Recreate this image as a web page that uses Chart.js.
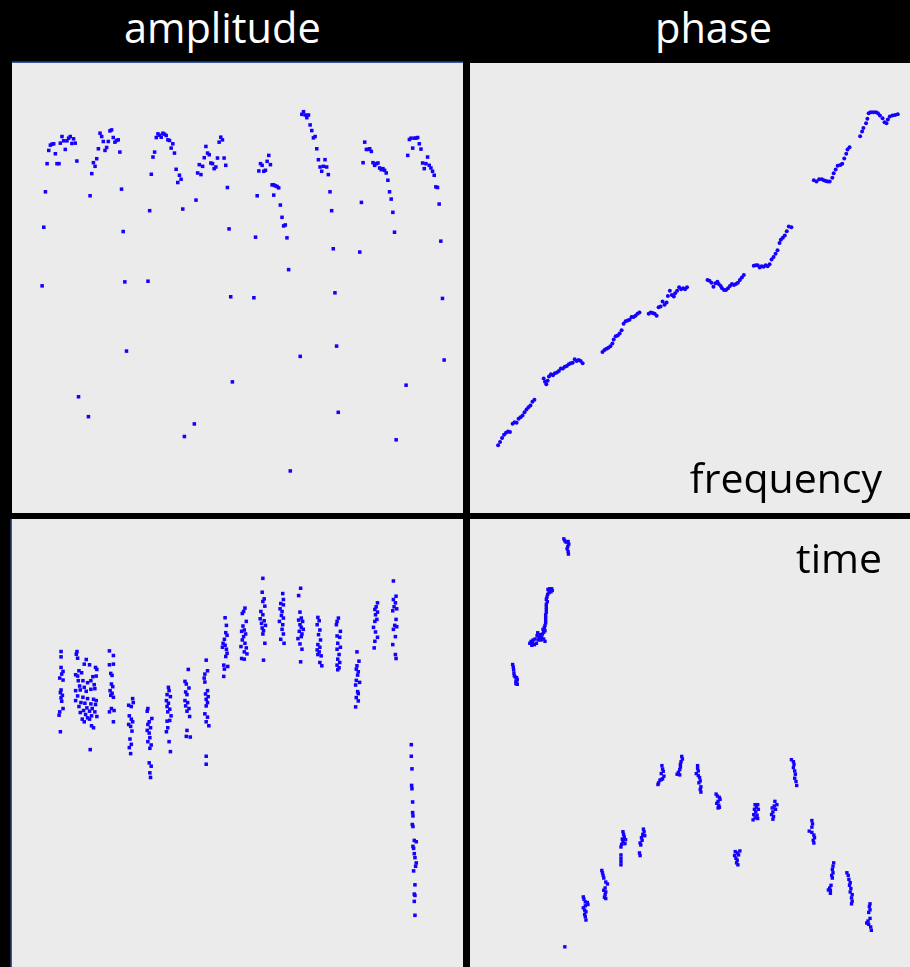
<!DOCTYPE html>
<html>
<head>
<meta charset="utf-8">
<script src="https://cdn.jsdelivr.net/npm/chart.js@4"></script>
<style>
  body { margin: 0; background: #000; }
  #page { position: relative; width: 910px; height: 967px; background: #000; overflow: hidden; font-family: "Open Sans", sans-serif; }
  .head { position: absolute; top: 7px; color: #fff; font-size: 41.5px; line-height: 40px; }
  .panel { position: absolute; background: #ebebeb; overflow: hidden; }
  .panel canvas { position: absolute; }
  .tag { position: absolute; right: 28px; color: #000; font-size: 41px; line-height: 41px; }
</style>
</head>
<body>
<div id="page">
  <div class="head" style="left:124px">amplitude</div>
  <div class="head" style="left:655px">phase</div>

  <div class="panel" id="p1" style="left:12px;top:63px;width:451px;height:450px;box-shadow:0 -1.5px 0 #3a5a9a"></div>
  <div class="panel" id="p2" style="left:470px;top:63px;width:440px;height:450px"></div>
  <div class="panel" id="p3" style="left:12px;top:519px;width:451px;height:448px;box-shadow:-1.5px 0 0 #3a5a9a"></div>
  <div class="panel" id="p4" style="left:470px;top:519px;width:440px;height:448px"></div>

  <div class="tag" style="top:457px">frequency</div>
  <div class="tag" style="top:537px">time</div>
</div>

<script>
// amplitude vs frequency (arbitrary units)
const ampFreq = [
  [96,860],[101,967],[106,1052],[111,1092],[116,1108],[121,1111],[126,1112],[131,1082],[136,1052],[142,1052],
  [146,1114],[151,1134],[156,1121],[161,1095],[166,1121],[171,1129],[176,1134],[181,1113],[186,1127],[191,1114],[196,1060],
  [236,955],[241,1022],[246,1055],[251,1044],[256,1067],[261,1097],[266,1144],[271,1134],[276,1119],[281,1092],
  [286,1101],[291,1119],[296,1151],[301,1154],[306,1131],[311,1117],[316,1122],[321,1124],[326,1087],[331,975],[336,847],
  [416,910],[421,1020],[426,1072],[431,1087],[436,1131],[441,1142],[446,1138],[451,1132],[456,1144],[461,1141],
  [466,1137],[471,1124],[476,1122],[481,1099],[486,1112],[491,1084],[496,1035],[501,995],[506,1017],[511,1005],[516,915],
  [556,942],[561,1024],[566,1049],[571,1019],[576,1044],[581,1070],[586,1104],[591,1084],[596,1079],[601,1054],
  [606,1052],[611,1037],[616,1042],[621,1069],[626,1117],[631,1132],[636,1124],[641,1069],[646,1047],[651,980],[656,855],
  [736,830],[741,955],[746,1030],[751,1052],[756,1047],[761,1029],[766,1032],[771,1059],[776,1077],[781,1049],
  [786,988],[791,988],[796,985],[801,983],[806,979],[791,957],[811,927],[816,890],[821,864],[826,867],[831,828],[836,732],
  [876,1201],[881,1209],[886,1199],[891,1191],[896,1199],[901,1169],[906,1152],[911,1130],[916,1134],[921,1097],
  [926,1064],[931,1042],[936,1029],[941,1044],[946,1064],[951,1042],[956,1019],[961,967],[966,910],[971,795],
  [1051,785],[1056,935],[1061,1055],[1066,1117],[1071,1095],[1076,1095],[1081,1097],[1086,1089],[1091,1055],[1096,1047],
  [1101,1052],[1106,1054],[1111,1039],[1116,1034],[1121,1037],[1126,1032],[1131,1024],[1136,1002],[1141,967],[1146,945],
  [1151,905],[1156,845],
  [1196,1077],[1201,1125],[1206,1129],[1211,1099],[1216,1129],[1221,1129],[1226,1131],[1231,1112],[1236,1096],[1241,1054],
  [1246,1037],[1251,1052],[1256,1072],[1261,1047],[1266,1039],[1271,1029],[1276,1017],[1281,982],[1286,980],[1291,930],[1296,818],
  [91,683],[201,348],[231,288],[341,695],[346,486],[411,697],[521,228],[551,266],[661,650],[666,393],
  [731,647],[841,124],[871,470],[976,662],[981,501],[986,301],[1161,218],[1191,383],[1301,645],[1306,459]
];

// phase vs frequency
const phaseFreq = [
  [1216,1204],[1222,1207],[1230,1207],[1238,1207],[1244,1204],[1250,1197],[1258,1189],[1264,1177],[1270,1174],[1274,1185],
  [1280,1194],[1288,1197],[1296,1199],[1304,1201],[1212,1187],[1208,1174],[1200,1159],[1196,1149],[1190,1134],
  [1158,1101],[1152,1094],[1148,1081],[1142,1067],[1136,1051],[1130,1047],[1122,1045],[1116,1034],[1110,1022],[1106,1009],
  [1098,997],[1092,997],[1086,999],[1080,1001],[1074,1004],[1066,1004],[1058,997],[1050,1001],
  [982,859],[974,861],[968,847],[962,834],[956,827],[950,821],[946,811],[940,789],[934,779],[928,769],
  [922,761],[916,747],[910,741],[904,744],[898,739],[892,741],[886,737],[880,744],[874,744],[868,742],
  [838,714],[832,707],[826,699],[820,691],[814,687],[808,684],[802,687],[796,681],[790,674],[784,669],
  [778,669],[772,674],[768,681],[762,687],[758,694],[752,689],[746,679],[740,691],[734,697],[728,699],
  [666,677],[660,671],[654,674],[648,671],[642,677],[636,667],[630,659],[626,649],[620,654],[614,667],
  [608,651],[604,631],[598,624],[592,634],[586,619],[580,617],[574,591],[568,597],[562,599],[556,601],[550,597],
  [522,601],[516,597],[510,591],[504,587],[498,587],[492,579],[486,577],[480,574],[474,567],[468,547],
  [462,537],[456,531],[450,529],[444,519],[440,507],[434,499],[428,494],[422,491],[416,487],[410,481],
  [350,447],[344,454],[338,457],[332,454],[326,459],[320,449],[314,447],[308,444],[302,439],[296,437],
  [290,431],[284,431],[278,424],[272,419],[266,417],[260,411],[254,414],[248,407],[244,394],[240,384],[236,391],[232,401],
  [204,337],[198,331],[192,319],[186,314],[180,307],[174,299],[168,289],[162,284],[156,279],[150,267],
  [144,269],[138,264],[130,239],[124,241],[118,237],[112,231],[106,221],[100,209],[94,199]
];

// amplitude vs time
const ampTime = [
  [150,949],[150,933],[150,901],[156,889],[152,881],[146,869],[156,863],[150,833],[148,825],[154,817],
  [150,809],[152,799],[156,777],[146,767],[144,757],[148,707],
  [198,949],[196,941],[200,929],[226,925],[220,911],[236,909],[254,901],[258,895],[204,891],[212,885],
  [194,879],[200,875],[246,873],[256,875],[240,861],[202,861],[216,861],[230,855],[250,849],[206,845],
  [220,841],[194,831],[208,833],[226,829],[240,835],[252,837],[200,815],[216,811],[230,807],[248,805],
  [256,801],[194,801],[210,795],[222,793],[240,791],[254,789],[204,783],[228,779],[244,777],[218,771],
  [236,769],[252,767],[208,765],[224,759],[242,755],[258,753],[230,749],[214,745],[220,737],[236,745],
  [242,725],[248,719],[238,653],
  [296,951],[308,937],[296,909],[308,911],[300,883],[304,877],[302,851],[306,843],[298,831],[304,823],
  [300,817],[308,811],[302,777],[310,771],[296,767],[308,737],
  [366,807],[368,795],[354,787],[362,783],[356,755],[362,745],[366,737],[354,729],[360,723],[364,709],
  [358,685],[362,669],[356,659],[360,641],
  [412,777],[410,769],[424,747],[416,737],[412,729],[420,719],[410,711],[416,703],[418,689],[412,677],
  [422,667],[418,657],[416,613],[422,603],[418,583],[420,569],
  [474,841],[476,831],[470,819],[480,813],[468,801],[474,793],[470,783],[478,775],[472,767],[482,755],
  [470,739],[478,741],[472,719],[468,707],[476,677],[480,647],
  [534,895],[524,859],[528,851],[536,839],[526,827],[530,819],[524,801],[532,795],[526,785],[536,777],
  [530,769],[538,753],[530,711],[528,693],[540,691],
  [588,923],[592,891],[584,881],[582,869],[584,857],[592,831],[586,821],[594,813],[588,805],[592,795],
  [588,785],[584,761],[592,751],[588,737],[596,725],[588,633],[588,609],
  [645,1051],[649,1028],[647,1006],[651,998],[643,986],[639,974],[645,968],[637,962],[649,956],[651,944],
  [647,934],[641,908],[653,904],[643,896],[641,874],
  [705,1080],[701,1070],[697,1064],[709,1040],[699,1026],[703,1014],[695,1010],[707,1002],[701,994],[697,984],
  [705,974],[693,964],[709,960],[703,948],[711,942],[695,928],[703,926],
  [759,1170],[757,1128],[763,1108],[759,1100],[765,1086],[753,1070],[759,1060],[751,1048],[763,1042],[755,1034],
  [767,1028],[757,1020],[761,1012],[759,1002],[765,974],[761,923],
  [819,1124],[821,1106],[813,1094],[821,1090],[811,1078],[817,1070],[815,1058],[821,1050],[809,1040],[819,1030],
  [817,1016],[821,1002],[813,986],[823,974],
  [873,1140],[867,1118],[871,1068],[875,1050],[867,1044],[879,1040],[871,1030],[875,1022],[881,1016],[869,1010],
  [877,1002],[875,994],[865,988],[871,972],[877,956],[873,918],
  [925,1052],[929,1042],[923,1030],[931,1014],[927,1000],[933,984],[925,970],[931,962],[923,954],[929,948],
  [925,940],[935,936],[931,916],[937,906],
  [987,1050],[983,1040],[981,1030],[993,1010],[983,996],[991,992],[985,974],[993,962],[983,956],[989,940],
  [985,926],[991,916],[983,908],[989,900],[985,894],
  [1043,948],[1049,920],[1043,906],[1041,896],[1047,888],[1045,878],[1051,856],[1041,862],[1039,848],[1045,828],
  [1047,822],[1041,810],[1047,800],[1039,782],
  [1105,1096],[1101,1084],[1097,1076],[1105,1068],[1099,1060],[1103,1046],[1097,1040],[1093,1022],[1099,1008],[1105,992],
  [1097,980],[1095,960],
  [1153,1162],[1161,1116],[1153,1106],[1159,1096],[1155,1084],[1163,1078],[1151,1072],[1161,1046],[1157,1028],[1163,1024],
  [1153,1016],[1159,994],[1151,970],[1159,940],[1161,928],
  [1207,668],[1207,633],[1209,595],[1208,545],[1209,535],[1211,495],[1211,463],[1212,453],[1210,427],[1212,421],
  [1216,379],[1222,375],[1212,361],[1214,355],[1216,339],[1218,327],[1222,311],[1220,301],[1214,287],[1218,245],
  [1216,217],[1218,213],[1216,195],[1218,153]
];

// phase vs time
const phaseTime = [
  [293,1289],[296,1283],[300,1279],[306,1281],[308,1273],[305,1266],[303,1259],[306,1251],[307,1243],
  [245,1136],[250,1138],[256,1138],[258,1133],[254,1129],[248,1126],[244,1121],[242,1113],[240,1106],[243,1099],
  [240,1091],[240,1083],[240,1075],[240,1067],[238,1059],[238,1051],[238,1043],[238,1035],[236,1027],[234,1021],
  [230,1015],[236,1011],[232,1006],[228,1001],[222,999],[214,1005],[212,996],[218,991],[226,991],[232,986],
  [236,979],[224,983],[216,983],[206,986],[200,983],[194,979],[190,973],[196,967],[204,969],[210,973],[198,975],
  [138,909],[140,901],[141,893],[142,883],[143,875],[146,871],[150,869],[152,863],[148,859],[150,853],[152,849],[148,851],
  [296,55],
  [352,206],[354,199],[358,191],[364,189],[366,183],[358,179],[352,173],[356,166],[360,161],[356,153],[358,146],[360,136],
  [408,286],[410,279],[412,271],[414,263],[420,251],[425,245],[418,233],[414,226],[420,221],[418,213],[416,205],[420,201],
  [472,403],[474,395],[476,387],[470,381],[480,379],[472,373],[468,365],[466,357],[478,367],[466,333],[466,323],[466,313],[466,303],
  [534,411],[536,403],[532,395],[538,391],[528,385],[530,377],[524,369],[526,363],[522,339],[524,331],
  [590,603],[592,593],[594,586],[588,579],[596,571],[592,563],[588,561],[584,559],[580,551],[578,546],
  [650,631],[652,623],[648,615],[646,607],[646,599],[644,591],[640,583],[636,577],[644,575],
  [698,603],[698,595],[700,587],[694,579],[700,573],[704,567],[706,557],[702,551],[708,539],[706,531],[708,523],
  [754,517],[758,511],[764,507],[766,501],[760,495],[756,489],[762,483],[764,477],[760,475],
  [812,343],[818,339],[826,345],[810,331],[822,333],[814,323],[818,317],[816,309],[820,303],
  [872,485],[880,485],[876,477],[870,471],[882,471],[874,463],[868,455],[878,453],[872,445],[866,439],[880,443],
  [932,495],[938,485],[930,481],[924,475],[934,471],[926,463],[922,455],[928,449],[926,441],
  [982,621],[988,615],[990,607],[988,597],[992,587],[994,577],[992,565],[996,555],[998,543],
  [1044,437],[1046,427],[1044,417],[1036,405],[1044,401],[1050,393],[1052,385],[1048,377],[1050,369],
  [1110,309],[1108,299],[1106,289],[1108,279],[1104,271],[1106,263],[1102,241],[1098,233],[1100,225],[1094,227],[1100,217],
  [1150,279],[1154,271],[1156,259],[1160,249],[1158,241],[1162,231],[1160,221],[1166,213],[1164,203],[1166,193],[1164,185],
  [1220,185],[1218,177],[1220,167],[1216,159],[1220,141],[1214,133],[1210,127],[1216,123],[1222,115],[1224,105]
];

// axis ranges for each panel
const freqRangeX = [6, 1360];
const phaseFreqRangeX = [15, 1335];
const timeRangeX = [8, 1360];
const phaseTimeRangeX = [15, 1335];
const topRangeY = [0, 1350];
const bottomRangeY = [0, 1343];

const blue = "#1400ff";

// Chart.js insets the plot area by the point size, so the canvas is made
// that much larger than the panel and shifted back.
function scatter(panelId, pts, rx, ry, style, r) {
  const panel = document.getElementById(panelId);
  const w = panel.clientWidth, h = panel.clientHeight;
  const pad = r;
  const cv = document.createElement("canvas");
  cv.width = w + 2 * pad;
  cv.height = h + 2 * pad;
  cv.style.left = -pad + "px";
  cv.style.top = -pad + "px";
  panel.appendChild(cv);

  new Chart(cv, {
    type: "scatter",
    data: {
      datasets: [{
        data: pts.map(p => ({ x: p[0], y: p[1] })),
        backgroundColor: blue,
        borderColor: blue,
        borderWidth: 0,
        pointStyle: style,
        pointRadius: r
      }]
    },
    options: {
      responsive: false,
      animation: false,
      layout: { padding: 0 },
      plugins: { legend: { display: false }, tooltip: { enabled: false } },
      scales: {
        x: { type: "linear", display: false, min: rx[0], max: rx[1] },
        y: { type: "linear", display: false, min: ry[0], max: ry[1] }
      }
    }
  });
}

scatter("p1", ampFreq, freqRangeX, topRangeY, "rect", 2.5);
scatter("p2", phaseFreq, phaseFreqRangeX, topRangeY, "circle", 2);
scatter("p3", ampTime, timeRangeX, bottomRangeY, "rect", 2.5);
scatter("p4", phaseTime, phaseTimeRangeX, bottomRangeY, "rect", 2.4);
</script>
</body>
</html>
